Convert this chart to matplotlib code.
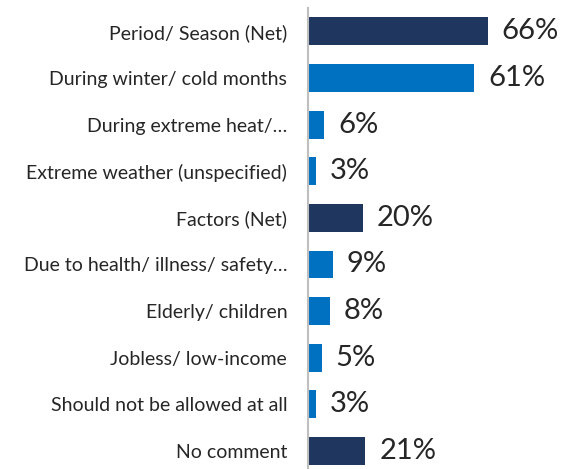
import matplotlib
matplotlib.use("Agg")
import matplotlib.pyplot as plt

categories = [
    "Period/ Season (Net)",
    "During winter/ cold months",
    "During extreme heat/…",
    "Extreme weather (unspecified)",
    "Factors (Net)",
    "Due to health/ illness/ safety…",
    "Elderly/ children",
    "Jobless/ low-income",
    "Should not be allowed at all",
    "No comment",
]
values = [66, 61, 6, 3, 20, 9, 8, 5, 3, 21]
is_net = [True, False, False, False, True, False, False, False, False, True]

NAVY = "#1F365E"
BLUE = "#0070C0"
TEXT = "#262626"

plt.rcParams['font.family'] = ['Lato', 'DejaVu Sans']

W, H = 574, 469
fig = plt.figure(figsize=(W / 100, H / 100), dpi=100)
ax_left = 308 / W
ax_top = (H - 8) / H
ax = fig.add_axes([ax_left, 0, 1 - ax_left, ax_top])

colors = [NAVY if n else BLUE for n in is_net]
y = list(range(len(categories)))
ax.barh(y, values, height=0.6, color=colors)

ax.set_ylim(9.385, -0.5)
ax.set_xlim(0, 266 / 2.727)

ax.set_yticks(y)
ax.set_yticklabels(categories, fontsize=14, color=TEXT)
ax.tick_params(axis='y', length=0, pad=15)
ax.set_xticks([])

for s in ['top', 'right', 'bottom']:
    ax.spines[s].set_visible(False)
ax.spines['left'].set_color("#BFBFBF")
ax.spines['left'].set_linewidth(1.5)

for yi, v in zip(y, values):
    ax.annotate(f"{v}%", xy=(v, yi), xytext=(10, 0), textcoords='offset points',
                va='center', ha='left', fontsize=21, color=TEXT)

fig.savefig("out.png", dpi=100)
